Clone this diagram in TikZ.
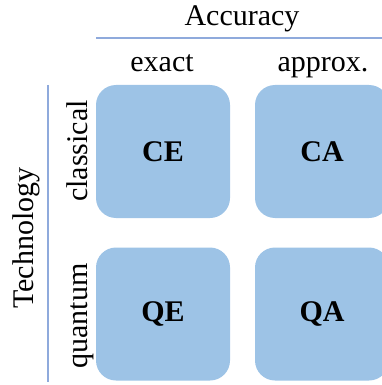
\documentclass[tikz,border=0pt]{standalone}
\usepackage{fontspec}
\setmainfont{Liberation Serif}
\definecolor{tuile}{HTML}{9DC3E6}
\definecolor{trait}{HTML}{8FAADC}

\begin{document}
\begin{tikzpicture}[x=1pt, y=-1pt]
\tikzset{case/.style={fill=tuile, rounded corners=20pt, minimum width=134pt, minimum height=133pt, inner sep=0pt, font=\fontsize{30}{36}\selectfont\bfseries}}
\tikzset{titre/.style={font=\fontsize{30}{36}\selectfont, inner sep=0pt, anchor=base}}
\clip (0, 0) rectangle (382, 385);
\node[case] (CE) at (163, 151.5) {CE};
\node[case] (CA) at (322, 151.5) {CA};
\node[case] (QE) at (163, 314) {QE};
\node[case] (QA) at (322, 314) {QA};
\node[titre] (Acc) at (242, 26) {Accuracy};
\node[titre] (Ex) at (162, 72) {exact};
\node[titre] (Ap) at (323, 72) {approx.};
\node[titre, rotate=90] (Tech) at (33, 238) {Technology};
\node[titre, rotate=90] (Cl) at (87, 151) {classical};
\node[titre, rotate=90] (Qu) at (87, 316) {quantum};
\coordinate (H1) at (96, 38);
\coordinate (H2) at (382, 38);
\coordinate (V1) at (48, 85);
\coordinate (V2) at (48, 382);
\draw[trait, line width=1.2pt] (H1) -- (H2);
\draw[trait, line width=1.2pt] (V1) -- (V2);
\end{tikzpicture}
\end{document}
